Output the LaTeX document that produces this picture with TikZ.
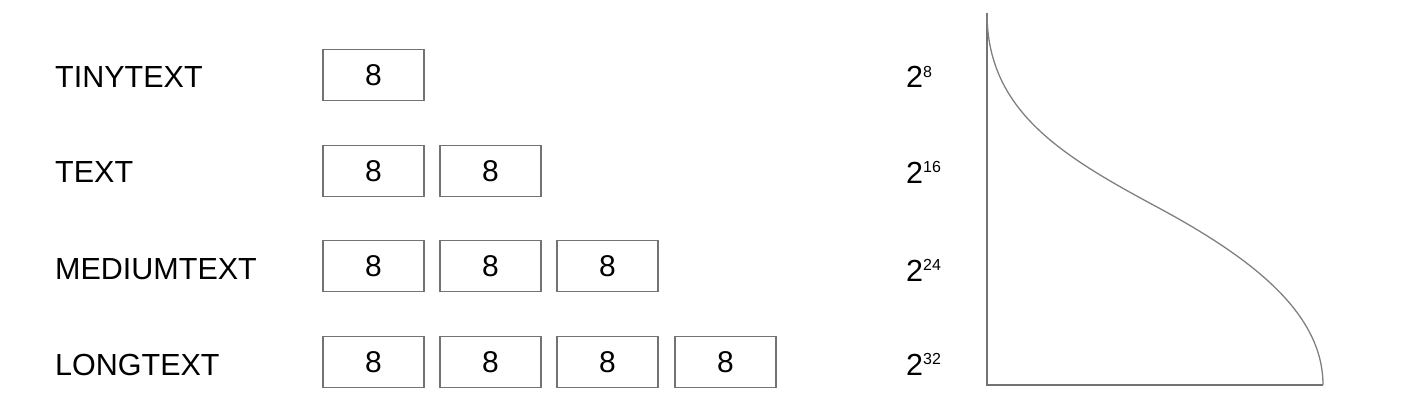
\documentclass[tikz,border=0pt]{standalone}
\usepackage{fontspec}
\setmainfont{Liberation Sans}
\definecolor{linegray}{rgb}{0.45,0.45,0.45}
\definecolor{curvegray}{rgb}{0.5,0.5,0.5}
\begin{document}
\begin{tikzpicture}[x=1pt,y=-1pt,
  lbl/.style={anchor=base west,inner sep=0pt,font=\fontsize{30.5}{36}\selectfont},
  cell/.style={draw=linegray,line width=1.3pt,minimum width=101pt,minimum height=51pt,inner sep=0pt,font=\fontsize{30}{36}\selectfont},
  axisline/.style={draw=linegray,line width=1.3pt},
  curveline/.style={draw=curvegray,line width=1.3pt}]
\useasboundingbox (0,0) rectangle (1410,412);
% left labels
\node[lbl] (l1) at (55,87) {TINYTEXT};
\node[lbl] (l2) at (55,182) {TEXT};
\node[lbl] (l3) at (55,279) {MEDIUMTEXT};
\node[lbl] (l4) at (55,375) {LONGTEXT};
% boxes
\node[cell] (b11) at (373.5,75) {8};
\node[cell] (b21) at (373.5,171) {8};
\node[cell] (b22) at (490.5,171) {8};
\node[cell] (b31) at (373.5,266) {8};
\node[cell] (b32) at (490.5,266) {8};
\node[cell] (b33) at (607.5,266) {8};
\node[cell] (b41) at (373.5,362) {8};
\node[cell] (b42) at (490.5,362) {8};
\node[cell] (b43) at (607.5,362) {8};
\node[cell] (b44) at (725.5,362) {8};
% exponents
\newcommand{\expo}[1]{2\raisebox{10.5pt}{\fontsize{16}{18}\selectfont #1}}
\node[lbl] (e1) at (906,88) {\expo{8}};
\node[lbl] (e2) at (906,183) {\expo{16}};
\node[lbl] (e3) at (906,281) {\expo{24}};
\node[lbl] (e4) at (906,375) {\expo{32}};
% axes and curve
\coordinate (top) at (987,13);
\coordinate (orig) at (987,385);
\coordinate (rend) at (1323,385);
\coordinate (mid) at (1157,207);
\draw[axisline] (top) -- (orig) -- (rend);
\draw[curveline] (top) .. controls (987,110) and (1060,155) .. (mid)
  .. controls (1250,257) and (1323,312) .. (rend);
\end{tikzpicture}
\end{document}
